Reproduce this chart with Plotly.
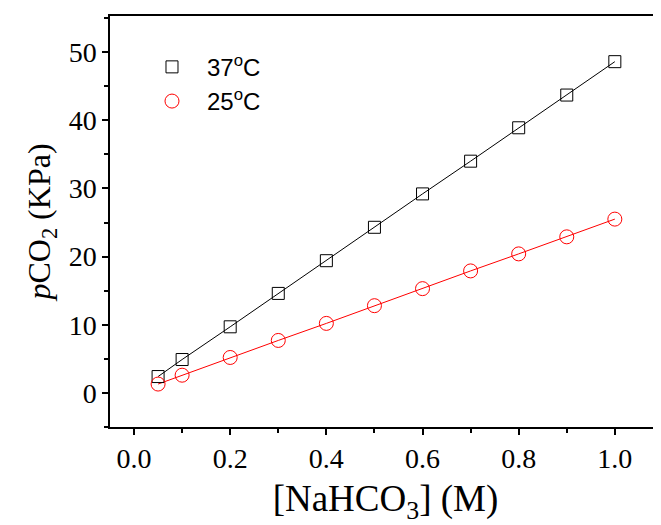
import plotly.graph_objects as go

conc = [0.05, 0.1, 0.2, 0.3, 0.4, 0.5, 0.6, 0.7, 0.8, 0.9, 1.0]
p37 = [2.4, 4.9, 9.7, 14.6, 19.4, 24.3, 29.2, 34.0, 38.9, 43.7, 48.6]
p25 = [1.3, 2.6, 5.2, 7.7, 10.2, 12.8, 15.3, 17.9, 20.4, 22.9, 25.5]
names = ["37<sup>o</sup>C", "25<sup>o</sup>C"]

fig = go.Figure()
# fit lines (no legend)
fig.add_trace(go.Scatter(x=conc, y=p37, mode="lines", showlegend=False,
                         line=dict(color="black", width=1)))
fig.add_trace(go.Scatter(x=conc, y=p25, mode="lines", showlegend=False,
                         line=dict(color="red", width=1)))
# markers
fig.add_trace(go.Scatter(x=conc, y=p37, mode="markers", name=names[0],
                         marker=dict(symbol="square-open", size=12, color="black", line=dict(width=1))))
fig.add_trace(go.Scatter(x=conc, y=p25, mode="markers", name=names[1],
                         marker=dict(symbol="circle-open", size=14, color="red", line=dict(width=1))))

serif = "Liberation Serif, Times New Roman, serif"
# page body has an 8px margin; figure is sized to fill the rest of the window
fig.update_layout(
    width=653, height=517,
    margin=dict(l=102, r=0, t=8, b=98),
    plot_bgcolor="white", paper_bgcolor="white",
    showlegend=True,
    legend=dict(x=0.049, y=0.93, xanchor="left", yanchor="top",
                font=dict(family="Liberation Sans, Arial, sans-serif", size=24, color="black"),
                bgcolor="rgba(0,0,0,0)", itemwidth=60, tracegroupgap=0),
    xaxis=dict(range=[-0.05, 1.096], tickvals=[0, 0.2, 0.4, 0.6, 0.8, 1.0],
               ticktext=["0.0", "0.2", "0.4", "0.6", "0.8", "1.0"],
               ticks="outside", ticklen=6, tickwidth=1.5, tickcolor="black",
               minor=dict(dtick=0.1, tick0=0, ticks="outside", ticklen=4, tickwidth=1.5, tickcolor="black"),
               showline=True, linecolor="black", linewidth=1.5, mirror=True,
               showgrid=False, zeroline=False, automargin=False,
               tickfont=dict(family=serif, size=28, color="black"),
               title=dict(text="[NaHCO<sub>3</sub>] (M)", font=dict(family=serif, size=37, color="black"), standoff=22)),
    yaxis=dict(range=[-5, 55.3], tickvals=[0, 10, 20, 30, 40, 50],
               ticks="outside", ticklen=6, tickwidth=1.5, tickcolor="black",
               minor=dict(dtick=5, tick0=0, ticks="outside", ticklen=4, tickwidth=1.5, tickcolor="black"),
               showline=True, linecolor="black", linewidth=1.5, mirror=False,
               showgrid=False, zeroline=False, automargin=False,
               tickfont=dict(family=serif, size=28, color="black"),
               title=dict(text="<i>p</i>CO<sub>2</sub> (KPa)", font=dict(family=serif, size=32, color="black"), standoff=8)),
)
fig.write_html("out.html")
